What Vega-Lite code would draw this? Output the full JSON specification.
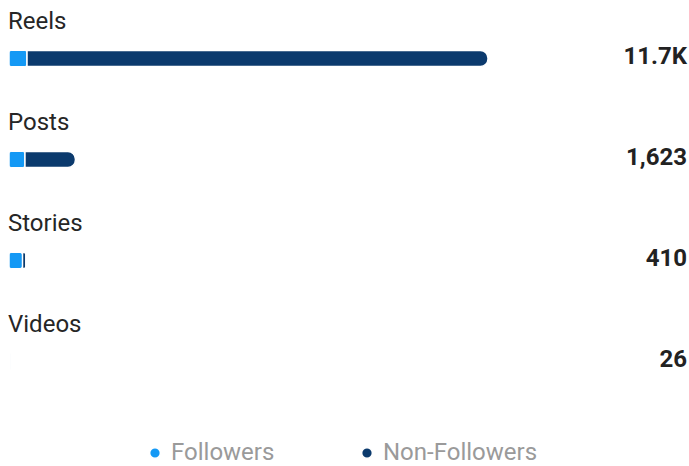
{
  "$schema": "https://vega.github.io/schema/vega-lite/v6.json",
  "width": 681,
  "height": 404,
  "padding": {"left": 8, "top": 8, "right": 0, "bottom": 0},
  "background": "white",
  "config": {"view": {"stroke": null}, "font": "Roboto"},
  "data": {
    "values": [
      {"category": "Reels", "followers": 440, "nonFollowers": 11260, "total": 11700, "label": "11.7K"},
      {"category": "Posts", "followers": 390, "nonFollowers": 1233, "total": 1623, "label": "1,623"},
      {"category": "Stories", "followers": 330, "nonFollowers": 80, "total": 410, "label": "410"},
      {"category": "Videos", "followers": 10, "nonFollowers": 16, "total": 26, "label": "26"}
    ]
  },
  "encoding": {
    "y": {"field": "category", "type": "nominal", "sort": ["Reels", "Posts", "Stories", "Videos"], "axis": null, "scale": {"paddingInner": 0, "paddingOuter": 0}}
  },
  "layer": [
    {
      "mark": {"type": "bar", "size": 16, "cornerRadius": 2.5, "stroke": "white", "strokeWidth": 1},
      "encoding": {
        "x": {"field": "followers", "type": "quantitative", "scale": {"domain": [0, 16634], "nice": false, "zero": true}, "axis": null},
        "color": {"datum": "Followers", "type": "nominal", "scale": {"domain": ["Followers", "Non-Followers"], "range": ["#1499F5", "#0B3A6D"]},
          "legend": {"title": null, "orient": "none", "direction": "horizontal", "legendX": 134, "legendY": 433, "symbolType": "circle", "symbolSize": 115, "labelFontSize": 24, "labelColor": "#9a9a9a", "labelFont": "Roboto", "columnPadding": 80, "symbolOffset": 0, "labelOffset": 4, "labelLimit": 300}}
      }
    },
    {
      "mark": {"type": "bar", "size": 16, "cornerRadiusTopRight": 7.5, "cornerRadiusBottomRight": 7.5, "stroke": "white", "strokeWidth": 1.5},
      "encoding": {
        "x": {"field": "followers", "type": "quantitative"},
        "x2": {"field": "total"},
        "color": {"datum": "Non-Followers", "type": "nominal"}
      }
    },
    {
      "mark": {"type": "text", "align": "left", "baseline": "alphabetic", "dy": -30, "dx": -1, "fontSize": 24, "color": "#262626", "font": "Roboto"},
      "encoding": {
        "x": {"datum": 0, "type": "quantitative"},
        "text": {"field": "category", "type": "nominal"}
      }
    },
    {
      "mark": {"type": "text", "align": "right", "baseline": "alphabetic", "dy": 5, "dx": -3, "fontSize": 24, "fontWeight": "bold", "color": "#222222", "font": "Roboto"},
      "encoding": {
        "x": {"datum": 16634, "type": "quantitative"},
        "text": {"field": "label", "type": "nominal"}
      }
    }
  ]
}
